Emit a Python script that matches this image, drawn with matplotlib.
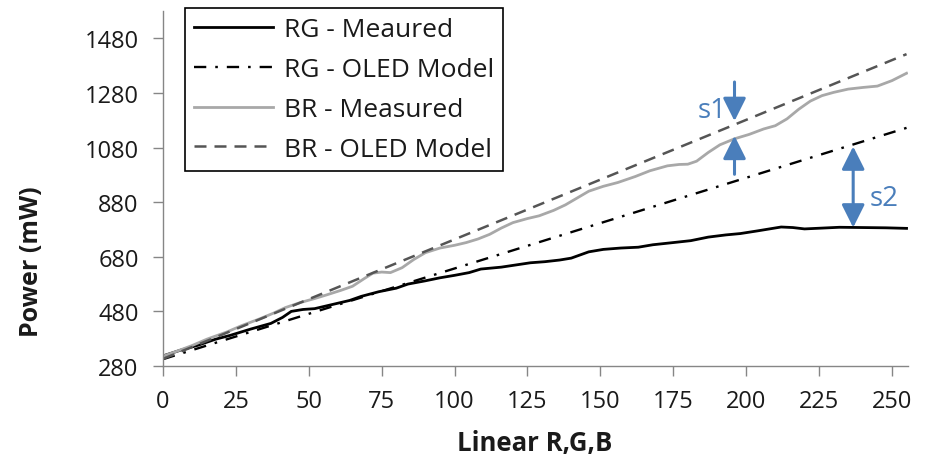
import numpy as np
import matplotlib.pyplot as plt

plt.rcParams['font.family'] = ['Open Sans', 'DejaVu Sans']

# measured power while sweeping the linear R,G,B level
rg_x = [0, 6, 12, 18, 23, 30, 37, 41, 44, 48, 52, 58, 64, 68, 74, 80, 84, 90, 95,
        100, 105, 109, 116, 121, 126, 131, 136, 140, 146, 151, 157, 163, 168, 175,
        181, 187, 193, 198, 204, 208, 212, 216, 220, 226, 232, 240, 248, 255]
rg_measured = [317, 338, 356, 378, 392, 415, 436, 458, 480, 487, 490, 505, 520, 535,
               552, 565, 580, 592, 603, 612, 622, 635, 642, 650, 658, 662, 668, 675,
               698, 707, 712, 715, 724, 732, 739, 752, 760, 765, 775, 782, 789, 787,
               782, 785, 788, 787, 786, 784]

br_x = [0, 5, 10, 15, 22, 27, 33, 38, 42, 47, 52, 56, 61, 65, 69, 72, 75, 78, 82, 86,
        90, 95, 100, 104, 108, 112, 116, 120, 125, 129, 134, 138, 142, 146, 151, 156,
        162, 167, 173, 177, 180, 183, 187, 191, 196, 201, 206, 210, 214, 218, 222,
        226, 230, 235, 240, 245, 250, 255]
br_measured = [316, 335, 355, 378, 405, 428, 452, 474, 494, 512, 527, 540, 557, 572,
               600, 620, 624, 622, 640, 670, 695, 712, 722, 732, 745, 762, 785, 805,
               820, 830, 850, 870, 895, 920, 938, 952, 974, 995, 1013, 1018, 1019,
               1030, 1062, 1090, 1112, 1128, 1148, 1160, 1185, 1220, 1250, 1270, 1282,
               1294, 1300, 1305, 1325, 1352]

# OLED model predictions (straight lines)
model_x = [0, 255]
rg_model = [305, 1152]
br_model = [306, 1422]

x_ticks = [0, 25, 50, 75, 100, 125, 150, 175, 200, 225, 250]
y_ticks = [280, 480, 680, 880, 1080, 1280, 1480]

# gap markers: s1 between BR curves, s2 between RG curves
s1_x = 196
s1_top = [1320, 1177]
s1_bottom = [982, 1123]
s2_x = 236.7
s2_span = [1084, 787]

blue = '#4a7ebb'
axis_grey = '#868686'

fig = plt.figure(figsize=(9.38, 4.6), dpi=100)
ax = fig.add_axes([163 / 938, 93 / 460, 745 / 938, 355 / 460])

ax.plot(rg_x, rg_measured, color='black', lw=2.0, label='RG - Meaured')
ax.plot(model_x, rg_model, color='black', lw=1.7, linestyle=(0, (5.2, 3.8, 1.1, 3.8)),
        label='RG - OLED Model')
ax.plot(br_x, br_measured, color='#a8a8a8', lw=2.0, label='BR - Measured')
ax.plot(model_x, br_model, color='#555555', lw=1.8, linestyle=(0, (4.8, 3.2)),
        label='BR - OLED Model')

arrow = dict(arrowstyle='-|>,head_length=1.0,head_width=0.5', mutation_scale=14,
             lw=2.2, color=blue, shrinkA=0, shrinkB=0)
ax.annotate('', xy=(s1_x, s1_top[1]), xytext=(s1_x, s1_top[0]), arrowprops=arrow)
ax.annotate('', xy=(s1_x, s1_bottom[1]), xytext=(s1_x, s1_bottom[0]), arrowprops=arrow)
both = dict(arrow, arrowstyle='<|-|>,head_length=1.0,head_width=0.5')
ax.annotate('', xy=(s2_x, s2_span[0]), xytext=(s2_x, s2_span[1]), arrowprops=both)
ax.text(188.3, 1217, 's1', color=blue, fontsize=20, ha='center', va='center')
ax.text(247.3, 895, 's2', color=blue, fontsize=20, ha='center', va='center')

ax.set_xlim(0, 255.5)
ax.set_ylim(280, 1580)
ax.set_xticks(x_ticks)
ax.set_yticks(y_ticks)
for side in ('top', 'right'):
    ax.spines[side].set_visible(False)
for side in ('left', 'bottom'):
    ax.spines[side].set_color(axis_grey)
    ax.spines[side].set_linewidth(1.0)
ax.tick_params(axis='both', direction='out', length=7.5, width=1.0, color=axis_grey,
               labelsize=17, labelcolor='#1a1a1a')
ax.tick_params(axis='y', pad=10)
ax.tick_params(axis='x', pad=9)

fig.text(32 / 938, 1 - 262 / 460, 'Power (mW)', rotation=90, ha='center', va='center',
         fontsize=18, fontweight='bold', color='#1a1a1a')
fig.text(535 / 938, 1 - 451 / 460, 'Linear R,G,B', ha='center', va='baseline',
         fontsize=18.5, fontweight='bold', color='#1a1a1a')

leg = ax.legend(loc='upper left', bbox_to_anchor=(185 / 938, 451 / 460),
                bbox_transform=fig.transFigure, borderaxespad=0, fontsize=19,
                handlelength=3.0, handletextpad=0.4, labelspacing=0.56,
                borderpad=0.35, fancybox=False, framealpha=1)
leg.get_frame().set_edgecolor('black')
leg.get_frame().set_linewidth(1.2)
for t in leg.get_texts():
    t.set_color('#1a1a1a')

fig.savefig('out.png', dpi=100)
